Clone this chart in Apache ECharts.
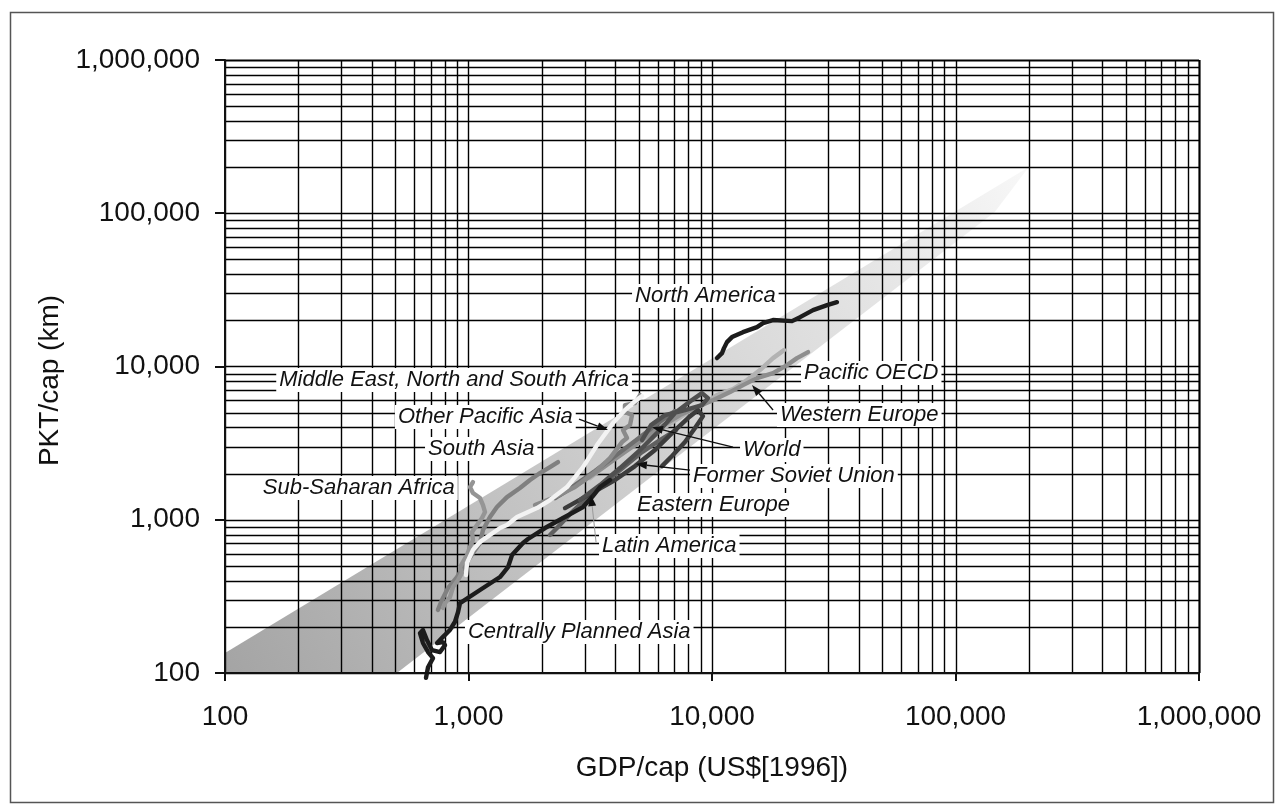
<!DOCTYPE html>
<html>
<head>
<meta charset="utf-8">
<script src="https://cdn.jsdelivr.net/npm/echarts@6/dist/echarts.min.js"></script>
<style>
  html, body { margin: 0; padding: 0; background: #fff; }
  #chart { width: 1279px; height: 810px; }
</style>
</head>
<body>
<div id="chart"></div>
<script>
// Passenger-km per capita against GDP per capita, 11 world regions and the world total.

// Axis decades (tick labels)
const decadeTicks = [100, 1000, 10000, 100000, 1000000];

// North America
const naGdp = [10490, 10990, 11200, 11520, 12080, 13400, 15300, 16200, 17800, 21300, 23000, 26000, 29700, 32600];
const naPkt = [11350, 12230, 13180, 14420, 15550, 16760, 18070, 19190, 20090, 19780, 20990, 23320, 25130, 26300];
// Pacific OECD
const poGdp = [2375, 3009, 3636, 4391, 5306, 6233, 7389, 9097, 10340, 11860, 13410, 15300, 17810, 20320, 22340, 24800];
const poPkt = [1449, 1816, 2240, 2765, 3412, 4085, 4819, 5601, 6129, 6808, 7562, 8400, 9057, 10210, 11340, 12420];
// Western Europe
const weGdp = [3155, 3812, 4606, 5617, 6597, 7746, 9097, 10480, 12200, 13920, 15740, 17810, 19760];
const wePkt = [1871, 2379, 2936, 3516, 4147, 4892, 5601, 6510, 7122, 8153, 9474, 11340, 12790];
// Middle East, North and South Africa
const meGdp = [1876, 2266, 2737, 3307, 3812, 4269, 4477, 4310, 4606, 4694, 4391, 4391, 4828, 5062];
const mePkt = [1247, 1406, 1634, 2047, 2526, 3213, 3412, 3847, 4147, 4819, 5041, 5601, 5771, 6510];
// Other Pacific Asia
const opaGdp = [977, 986, 1043, 1115, 1225, 1347, 1439, 1582, 1911, 2161, 2538, 2953, 3371, 3922, 4391, 4828, 5159];
const opaPkt = [436, 523, 635, 717, 796, 884, 923, 1041, 1192, 1345, 1634, 2207, 3071, 4273, 5195, 5947, 6412];
// South Asia
const saGdp = [749, 778, 824, 897, 949, 1043, 1115, 1147, 1225, 1309, 1439, 1627, 1789, 1966, 2161, 2331];
const saPkt = [258, 299, 358, 423, 484, 606, 705, 857, 1041, 1210, 1406, 1610, 1816, 2017, 2207, 2379];
// Sub-Saharan Africa
const ssaGdp = [786, 801, 839, 864, 906, 940, 923, 986, 1014, 1043, 1034, 1084, 1136, 1169, 1147, 1115, 1043, 1014, 1043];
const ssaPkt = [266, 286, 313, 364, 405, 450, 491, 588, 664, 738, 832, 923, 1026, 1123, 1247, 1385, 1494, 1634, 1762];
// World
const worldGdp = [2266, 2737, 3307, 3997, 4828, 5670, 6412, 7047];
const worldPkt = [1385, 1684, 2078, 2604, 3262, 3965, 4607, 5119];
// Former Soviet Union
const fsuGdp = [2870, 3467, 4190, 5062, 6115, 7047, 8277, 9097, 9630, 9097, 7746, 6412, 5617, 5159];
const fsuPkt = [1345, 1684, 2175, 2849, 3847, 4966, 6037, 6707, 6220, 5601, 5195, 4819, 4147, 3311];
// Eastern Europe
const eeGdp = [2491, 3155, 3997, 4828, 5834, 6851, 7969, 8759, 9184, 8517, 7746, 6851, 6233];
const eePkt = [1192, 1471, 1816, 2240, 2849, 3677, 4607, 5195, 4746, 3965, 3213, 2604, 2240];
// Latin America
const laGdp = [2161, 2309, 2661, 3155, 3740, 4391, 5159, 6115, 7116];
const laPkt = [795, 884, 1123, 1449, 1816, 2240, 2765, 3311, 3847];
// Centrally Planned Asia
const cpaGdp = [669, 682, 715, 682, 650, 632, 650, 675, 708, 764, 801, 786, 743, 786, 839, 880, 906, 923, 1115, 1347, 1453, 1509, 1674, 1755, 2062, 2444, 2953, 3216, 3467, 3812];
const cpaPkt = [93, 109, 125, 137, 157, 182, 191, 164, 141, 137, 152, 159, 157, 172, 191, 216, 250, 286, 348, 423, 491, 588, 705, 749, 883, 1026, 1210, 1406, 1634, 1816];

// Shaded corridor of historical development (outline vertices)
const bandGdp = [100, 100, 200000, 145000, 508];
const bandPkt = [100, 135, 200000, 102000, 100];

// Region labels: text and left-middle anchor
const labelText = ['North America', 'Pacific OECD', 'Western Europe', 'World',
  'Middle East, North and South Africa', 'Other Pacific Asia', 'South Asia', 'Sub-Saharan Africa',
  'Eastern Europe', 'Former Soviet Union', 'Latin America', 'Centrally Planned Asia'];
const labelGdp = [4830, 23870, 19020, 13410, 167, 513, 682, 143, 4920, 8360, 3535, 995];
const labelPkt = [28800, 9060, 4820, 2850, 8150, 4680, 2890, 1610, 1247, 1928, 673, 185];

// Leader arrows: from label to curve
const arrowFromGdp = [2843, 12200, 8120, 17810, 3340];
const arrowFromPkt = [4540, 2980, 2110, 5200, 715];
const arrowToGdp = [3740, 5670, 4870, 14600, 3185];
const arrowToPkt = [3850, 4020, 2310, 7560, 1450];

const FONT = '"Liberation Sans", Arial, Helvetica, sans-serif';
const X_MIN = decadeTicks[0], X_MAX = decadeTicks[decadeTicks.length - 1];
const Y_MIN = decadeTicks[0], Y_MAX = decadeTicks[decadeTicks.length - 1];

function fmt(v) {
  return String(Math.round(v)).replace(/\B(?=(\d{3})+(?!\d))/g, ',');
}
function pairs(xs, ys) { return xs.map((x, i) => [x, ys[i]]); }

// grid values: all 1..9 multiples in every decade
function gridValues() {
  const out = [];
  for (let i = 0; i < decadeTicks.length - 1; i++) {
    for (let m = 1; m <= 9; m++) out.push(decadeTicks[i] * m);
  }
  out.push(decadeTicks[decadeTicks.length - 1]);
  return out;
}
const gridVals = gridValues();

function renderGrid(params, api) {
  const children = [];
  const c = v => Math.round(v) + 0.5;
  gridVals.forEach(v => {
    const edge = (v === X_MAX);
    const a = api.coord([v, Y_MIN]), b = api.coord([v, Y_MAX]);
    const x = c(a[0]);
    children.push({ type: 'line', shape: { x1: x, y1: a[1], x2: x, y2: b[1] },
      style: { stroke: '#000', lineWidth: edge ? 2.2 : 1.4 } });
  });
  gridVals.forEach(v => {
    const edge = (v === Y_MAX);
    const a = api.coord([X_MIN, v]), b = api.coord([X_MAX, v]);
    const y = c(a[1]);
    children.push({ type: 'line', shape: { x1: a[0], y1: y, x2: b[0], y2: y },
      style: { stroke: '#000', lineWidth: edge ? 2.2 : 1.4 } });
  });
  return { type: 'group', children };
}

function renderBand(params, api) {
  const pts = bandGdp.map((g, i) => api.coord([g, bandPkt[i]]));
  return {
    type: 'polygon',
    shape: { points: pts },
    style: {
      fill: new echarts.graphic.LinearGradient(0, 1, 1, 0, [
        { offset: 0, color: '#a4a4a4' },
        { offset: 0.45, color: '#cccccc' },
        { offset: 0.8, color: '#e5e5e5' },
        { offset: 1, color: '#f8f8f8' }
      ])
    }
  };
}

function renderLabels(params, api) {
  const children = labelText.map((t, i) => {
    const p = api.coord([labelGdp[i], labelPkt[i]]);
    return {
      type: 'text',
      x: p[0] - 3, y: p[1],
      style: {
        text: t, fill: '#111', font: 'italic 22px ' + FONT,
        align: 'left', verticalAlign: 'middle',
        backgroundColor: '#fff', padding: [1, 3, 1, 3]
      }
    };
  });
  return { type: 'group', children };
}

function renderArrows(params, api) {
  const children = [];
  arrowFromGdp.forEach((g, i) => {
    const a = api.coord([g, arrowFromPkt[i]]);
    const b = api.coord([arrowToGdp[i], arrowToPkt[i]]);
    const dx = b[0] - a[0], dy = b[1] - a[1];
    const len = Math.sqrt(dx * dx + dy * dy);
    const ux = dx / len, uy = dy / len;
    const hl = 11, hw = 4;
    const bx = b[0] - ux * hl, by = b[1] - uy * hl;
    const grey = (i === arrowFromGdp.length - 1);
    children.push({ type: 'line', shape: { x1: a[0], y1: a[1], x2: bx, y2: by },
      style: { stroke: grey ? '#999' : '#111', lineWidth: grey ? 1 : 1.3 } });
    children.push({ type: 'polygon', shape: { points: [
      [b[0], b[1]], [bx - uy * hw, by + ux * hw], [bx + uy * hw, by - ux * hw]] },
      style: { fill: '#111' } });
  });
  return { type: 'group', children };
}

function regionLine(name, xs, ys, color, extra) {
  return Object.assign({
    name, type: 'line', data: pairs(xs, ys), z: 3,
    showSymbol: false, symbol: 'none', silent: true,
    lineStyle: { color, width: 4.4, cap: 'round', join: 'round' }
  }, extra || {});
}

const chart = echarts.init(document.getElementById('chart'), null, { renderer: 'canvas' });

const axisText = { fontFamily: FONT, fontSize: 28, color: '#111' };

chart.setOption({
  animation: false,
  backgroundColor: '#fff',
  grid: { left: 225, top: 60, width: 974, height: 613, containLabel: false, outerBoundsMode: 'none' },
  xAxis: {
    type: 'log', logBase: 10, min: X_MIN, max: X_MAX, z: 6,
    name: 'GDP/cap (US$[1996])', nameLocation: 'middle', nameGap: 81,
    nameTextStyle: Object.assign({}, axisText),
    axisLine: { show: true, onZero: false, lineStyle: { color: '#111', width: 2 } },
    axisTick: { show: true, length: 8, lineStyle: { color: '#111', width: 2 } },
    axisLabel: Object.assign({ margin: 30, formatter: fmt }, axisText),
    splitLine: { show: false }
  },
  yAxis: {
    type: 'log', logBase: 10, min: Y_MIN, max: Y_MAX, z: 6,
    name: 'PKT/cap (km)', nameLocation: 'middle', nameGap: 160,
    nameTextStyle: Object.assign({ padding: [0, 28, 0, 0] }, axisText),
    axisLine: { show: true, onZero: false, lineStyle: { color: '#111', width: 2 } },
    axisTick: { show: true, length: 10, lineStyle: { color: '#111', width: 2 } },
    axisLabel: Object.assign({ margin: 25, formatter: fmt }, axisText),
    splitLine: { show: false }
  },
  graphic: [{
    type: 'rect', left: 8, top: 10, silent: true,
    shape: { width: 1263, height: 790 },
    style: { fill: 'none', stroke: '#555', lineWidth: 1.5 }
  }],
  series: [
    { type: 'custom', name: 'corridor', data: [[X_MIN, Y_MIN]], z: 1, silent: true, renderItem: renderBand },
    { type: 'custom', name: 'grid', data: [[X_MIN, Y_MIN]], z: 2, silent: true, renderItem: renderGrid },
    regionLine('Western Europe', weGdp, wePkt, '#b2b2b2'),
    regionLine('Pacific OECD', poGdp, poPkt, '#8e8e8e'),
    regionLine('World', worldGdp, worldPkt, '#6e6e6e'),
    regionLine('Latin America', laGdp, laPkt, '#606060'),
    regionLine('Eastern Europe', eeGdp, eePkt, '#3c3c3c'),
    regionLine('Former Soviet Union', fsuGdp, fsuPkt, '#4f4f4f'),
    regionLine('Middle East, North and South Africa', meGdp, mePkt, '#8a8a8a'),
    regionLine('South Asia', saGdp, saPkt, '#808080'),
    regionLine('Sub-Saharan Africa', ssaGdp, ssaPkt, '#959595'),
    regionLine('Other Pacific Asia', opaGdp, opaPkt, '#f3f3f3'),
    regionLine('Centrally Planned Asia', cpaGdp, cpaPkt, '#1c1c1c', { clip: false }),
    regionLine('North America', naGdp, naPkt, '#1c1c1c'),
    { type: 'custom', name: 'arrows', data: [[X_MIN, Y_MIN]], z: 4, silent: true, renderItem: renderArrows },
    { type: 'custom', name: 'labels', data: [[X_MIN, Y_MIN]], z: 5, silent: true, renderItem: renderLabels }
  ]
});
</script>
</body>
</html>
